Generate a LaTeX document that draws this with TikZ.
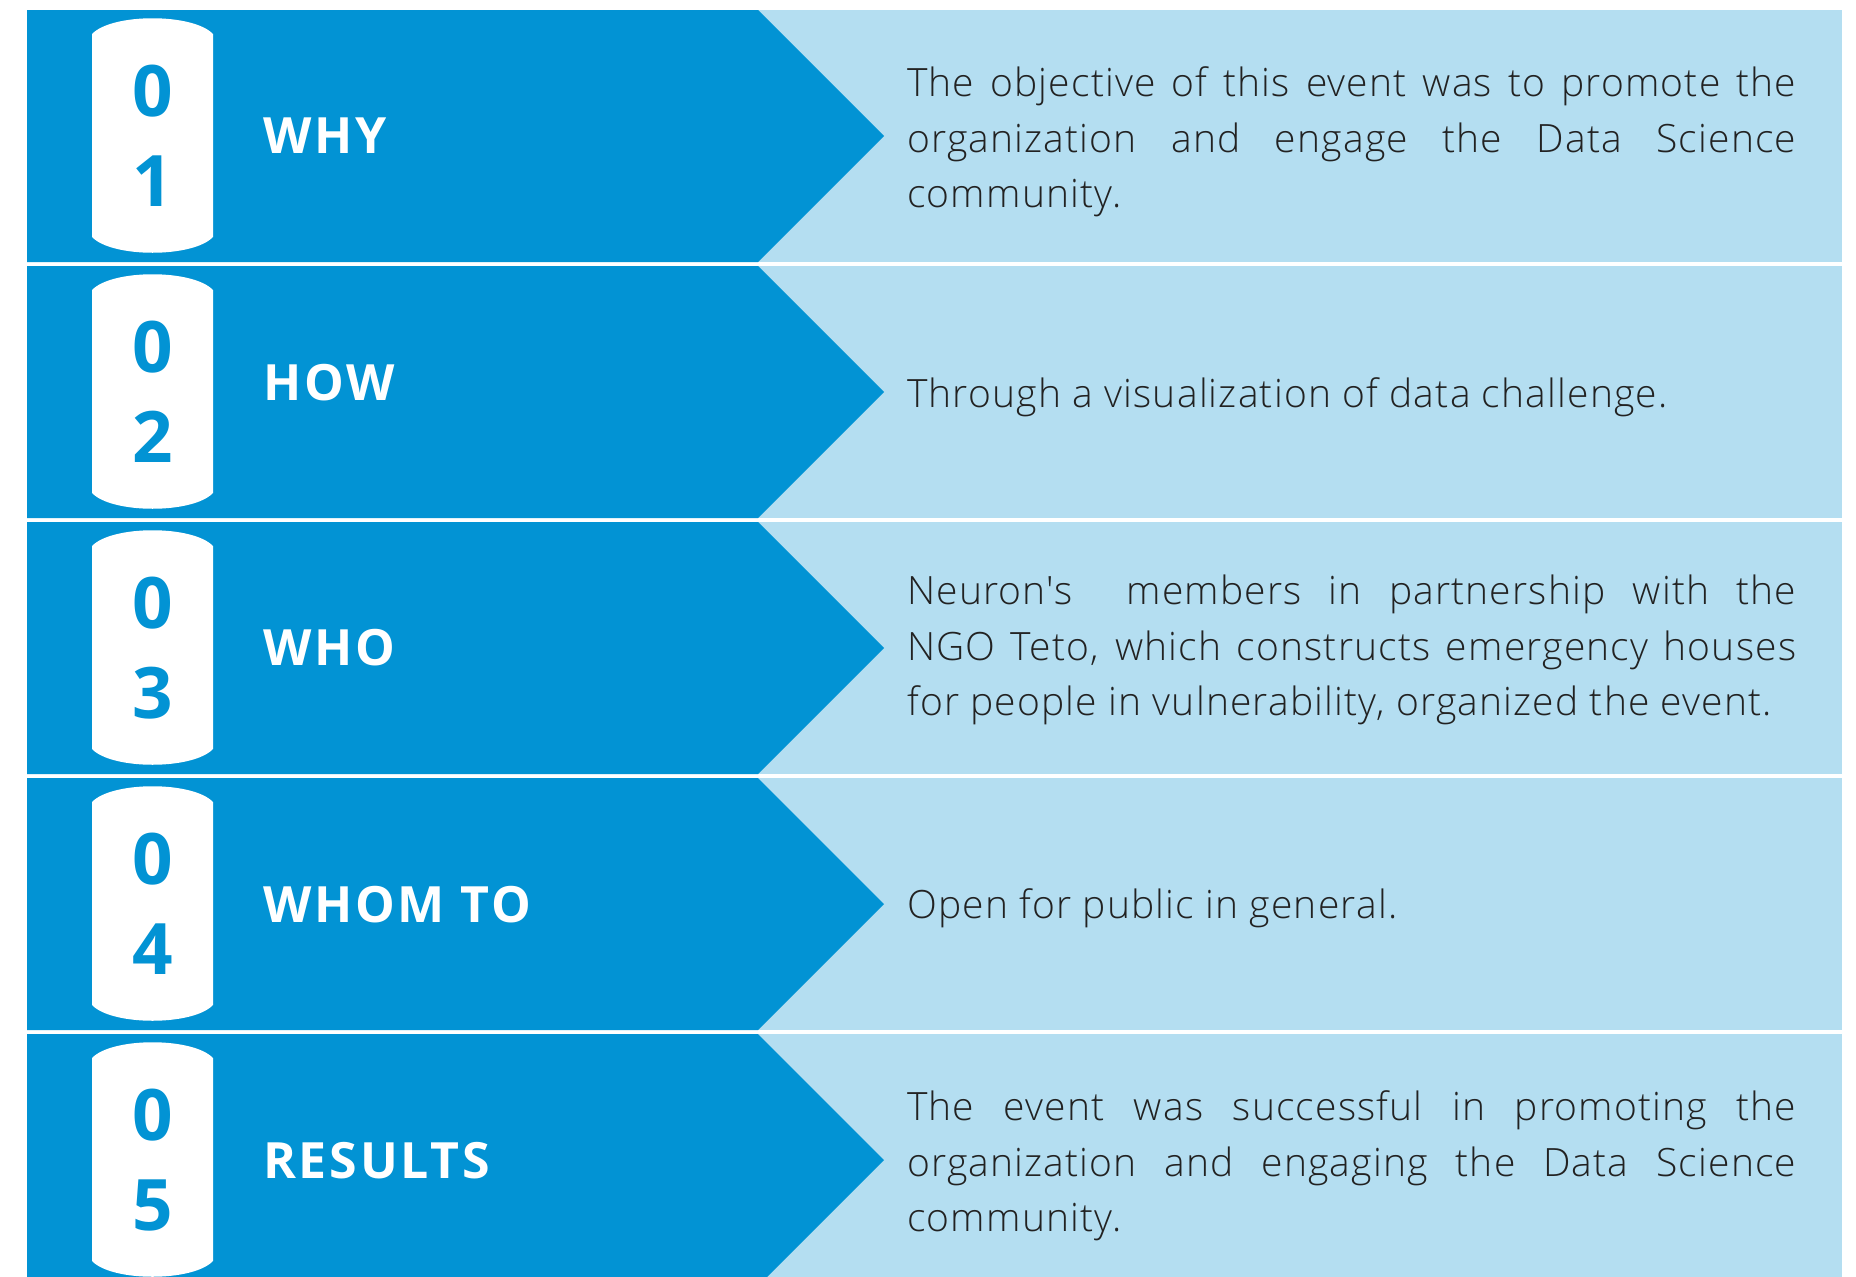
\documentclass[tikz,border=0pt]{standalone}
\usepackage{fontspec}
\setmainfont{Open Sans}
\newfontfamily\bodyfont[LetterSpace=3]{Open Sans Light}
\definecolor{dkblue}{RGB}{2,147,212}
\definecolor{ltblue}{RGB}{180,222,241}
\definecolor{txtgray}{RGB}{34,34,34}
\tikzset{
  digit/.style={text=dkblue,font=\bfseries\fontsize{71}{71}\selectfont,inner sep=0pt},
  title/.style={text=white,anchor=west,inner sep=0pt,font=\bfseries\fontsize{50}{60}\selectfont\addfontfeature{LetterSpace=5.5}},
  body/.style={text=txtgray,anchor=west,inner sep=0pt,text width=889pt,align=justify,font=\bodyfont\fontsize{39}{55.6}\selectfont}
}
\begin{document}
\begin{tikzpicture}[x=1pt,y=-1pt]
\useasboundingbox (0,0) rectangle (1856,1277);
\fill[white] (0,0) rectangle (1856,1277);
\clip (0,0) rectangle (1856,1277);
\foreach \i in {0,...,4}{
  \pgfmathsetmacro\T{10+256*\i}
  \fill[ltblue] (27,\T) rectangle (1842,\T+252);
  \fill[dkblue] (27,\T) -- (758,\T) -- (884,\T+126) -- (758,\T+252) -- (27,\T+252) -- cycle;
  \fill[white] (92,\T+24) .. controls (112,\T+3) and (193,\T+3) .. (213,\T+24)
     -- (213,\T+227) .. controls (193,\T+248) and (112,\T+248) .. (92,\T+227) -- cycle;
}
% digits
\node[digit] (d1a) at (153,91) {0};
\node[digit] (d1b) at (153,181) {1};
\node[digit] (d2a) at (153,347) {0};
\node[digit] (d2b) at (153,437) {2};
\node[digit] (d3a) at (153,603) {0};
\node[digit] (d3b) at (153,693) {3};
\node[digit] (d4a) at (153,859) {0};
\node[digit] (d4b) at (153,949) {4};
\node[digit] (d5a) at (153,1115) {0};
\node[digit] (d5b) at (153,1205) {5};
% titles
\node[title] (t1) at (263,136) {WHY};
\node[title] (t2) at (263,383) {HOW};
\node[title] (t3) at (263,648) {WHO};
\node[title] (t4) at (263,905) {WHOM TO};
\node[title] (t5) at (263,1161) {RESULTS};
% texts
\node[body] (b1) at (907,142) {The objective of this event was to promote the\linebreak organization and engage the Data Science\linebreak community.};
\node[body] (b2) at (907,397) {Through a visualization of data challenge.};
\node[body] (b3) at (907,650) {Neuron's\ \ members in partnership with the\linebreak NGO Teto, which constructs emergency houses\linebreak for people in vulnerability, organized the event.};
\node[body] (b4) at (907,908) {Open for public in general.};
\node[body] (b5) at (907,1166) {The event was successful in promoting the\linebreak organization and engaging the Data Science\linebreak community.};
\end{tikzpicture}
\end{document}
